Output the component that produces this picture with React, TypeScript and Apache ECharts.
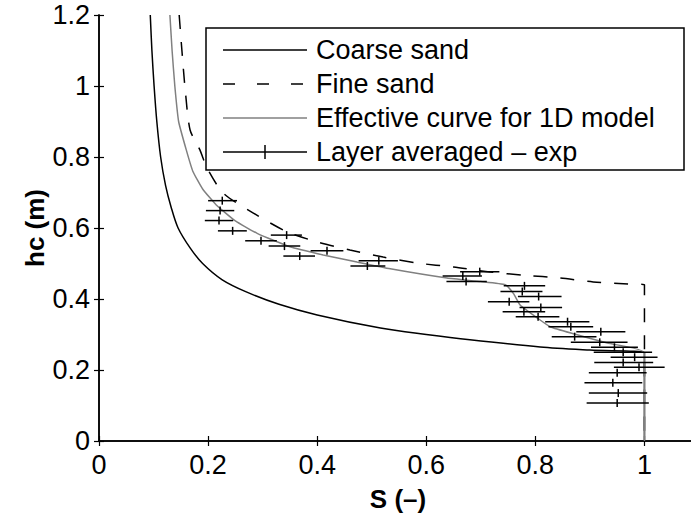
import React, { useEffect, useRef } from "react";
import * as echarts from "echarts";

const coarseS = [0.094, 0.097, 0.101, 0.106, 0.113, 0.122, 0.132, 0.145, 0.167, 0.19, 0.226, 0.27, 0.33, 0.4, 0.516, 0.6, 0.68, 0.809, 0.9, 1.0, 1.0];
const coarseH = [1.2, 1.1, 1.0, 0.9, 0.8, 0.72, 0.66, 0.6, 0.544, 0.5, 0.454, 0.42, 0.385, 0.355, 0.318, 0.3, 0.285, 0.265, 0.256, 0.248, 0];

const fineS = [0.147, 0.152, 0.158, 0.167, 0.185, 0.198, 0.228, 0.283, 0.345, 0.402, 0.46, 0.521, 0.585, 0.65, 0.717, 0.78, 0.846, 0.906, 0.97, 1.0, 1.0];
const fineH = [1.2, 1.1, 0.99, 0.876, 0.82, 0.769, 0.698, 0.642, 0.589, 0.56, 0.538, 0.518, 0.501, 0.49, 0.476, 0.467, 0.459, 0.448, 0.442, 0.44, 0];

const effS = [0.13, 0.134, 0.139, 0.146, 0.16, 0.172, 0.19, 0.215, 0.25, 0.29, 0.35, 0.411, 0.473, 0.534, 0.638, 0.7, 0.745, 0.76, 0.772, 0.804, 0.828, 0.87, 0.932, 1.0, 1.0];
const effH = [1.2, 1.1, 1.0, 0.9, 0.82, 0.76, 0.71, 0.665, 0.62, 0.585, 0.547, 0.524, 0.504, 0.485, 0.459, 0.449, 0.44, 0.415, 0.383, 0.346, 0.321, 0.302, 0.276, 0.248, 0];

// layer averaged experiment: S centre, hc, S low, S high
const expS = [0.226, 0.222, 0.22, 0.245, 0.297, 0.344, 0.34, 0.368, 0.418, 0.492, 0.513, 0.698, 0.667, 0.673, 0.78, 0.776, 0.806, 0.752, 0.81, 0.779, 0.805, 0.859, 0.865, 0.92, 0.872, 0.918, 0.945, 0.961, 0.982, 0.961, 0.99, 0.95, 0.942, 0.952, 0.95];
const expH = [0.677, 0.649, 0.621, 0.592, 0.564, 0.58, 0.549, 0.521, 0.536, 0.493, 0.508, 0.477, 0.465, 0.449, 0.437, 0.421, 0.407, 0.392, 0.376, 0.364, 0.35, 0.336, 0.322, 0.308, 0.294, 0.278, 0.264, 0.25, 0.236, 0.221, 0.208, 0.192, 0.164, 0.135, 0.107];
const expLo = [0.2, 0.196, 0.194, 0.218, 0.268, 0.315, 0.311, 0.338, 0.388, 0.461, 0.476, 0.662, 0.63, 0.637, 0.742, 0.736, 0.768, 0.713, 0.771, 0.74, 0.764, 0.818, 0.824, 0.875, 0.83, 0.865, 0.902, 0.907, 0.938, 0.908, 0.944, 0.898, 0.89, 0.898, 0.894];
const expHi = [0.253, 0.248, 0.246, 0.271, 0.326, 0.372, 0.369, 0.396, 0.448, 0.525, 0.548, 0.734, 0.702, 0.711, 0.818, 0.813, 0.848, 0.789, 0.849, 0.818, 0.844, 0.899, 0.906, 0.965, 0.912, 0.969, 0.988, 1.014, 1.024, 1.016, 1.037, 1.004, 0.996, 1.005, 1.008];

const legendLabels = ["Coarse sand", "Fine sand", "Effective curve for 1D model", "Layer averaged \u2013 exp"];

const FONT = "'Liberation Sans', Arial, Helvetica, sans-serif";

export default function App() {
  const ref = useRef<HTMLDivElement>(null);
  useEffect(() => {
    if (!ref.current) return;
    const chart = echarts.init(ref.current, undefined, { renderer: "svg" });
    const zip = (a: number[], b: number[]) => a.map((v, i) => [v, b[i]]);
    const expData = expS.map((s, i) => [s, expH[i], expLo[i], expHi[i]]);

    const axisCommon = {
      type: "value" as const,
      axisLine: { show: true, lineStyle: { color: "#000", width: 1.5 } },
      axisTick: { show: true, inside: true, length: 5, lineStyle: { color: "#000", width: 1.2 } },
      splitLine: { show: false },
    };

    const legX1 = 223, legX2 = 307, legTextX = 316;
    const rowsY = [50, 84, 118, 152];

    const option: any = {
      animation: false,
      backgroundColor: "#fff",
      grid: { left: 99, top: 15, right: 0, bottom: 76, containLabel: false },
      xAxis: [
        {
          ...axisCommon,
          position: "bottom",
          min: 0,
          max: 1.1,
          interval: 0.2,
          axisLabel: { show: true, color: "#000", fontSize: 27, fontFamily: FONT, margin: 10, showMaxLabel: false },
        },
        {
          ...axisCommon,
          position: "top",
          min: 0,
          max: 1.1,
          interval: 0.2,
          axisLabel: { show: false },
        },
      ],
      yAxis: [
        {
          ...axisCommon,
          position: "left",
          min: 0,
          max: 1.2,
          interval: 0.2,
          axisLabel: { show: true, color: "#000", fontSize: 27, fontFamily: FONT, margin: 9 },
        },
        {
          ...axisCommon,
          position: "right",
          min: 0,
          max: 1.2,
          interval: 0.2,
          axisLabel: { show: false },
        },
      ],
      series: [
        {
          type: "line",
          data: zip(coarseS, coarseH),
          showSymbol: false,
          smooth: 0.3,
          lineStyle: { color: "#000", width: 1.5 },
          z: 2,
        },
        {
          type: "line",
          data: zip(fineS, fineH),
          showSymbol: false,
          smooth: 0.25,
          lineStyle: { color: "#000", width: 1.5, type: [14, 13] },
          z: 2,
        },
        {
          type: "line",
          data: zip(effS, effH),
          showSymbol: false,
          smooth: 0.15,
          lineStyle: { color: "#808080", width: 1.5 },
          z: 3,
        },
        {
          type: "custom",
          data: expData,
          z: 4,
          renderItem: (params: any, api: any) => {
            const s = api.value(0), h = api.value(1), lo = api.value(2), hi = api.value(3);
            const pL = api.coord([lo, h]);
            const pR = api.coord([hi, h]);
            const pC = api.coord([s, h]);
            const st = { stroke: "#000", lineWidth: 1.5 };
            return {
              type: "group",
              children: [
                { type: "line", shape: { x1: pL[0], y1: pL[1], x2: pR[0], y2: pR[1] }, style: st },
                { type: "line", shape: { x1: pC[0], y1: pC[1] - 4, x2: pC[0], y2: pC[1] + 4 }, style: st },
              ],
            };
          },
        },
      ],
      graphic: [
        {
          type: "rect",
          z: 100,
          shape: { x: 206, y: 28, width: 478, height: 142 },
          style: { fill: "#fff", stroke: "#000", lineWidth: 1.5 },
        },
        { type: "line", z: 101, shape: { x1: legX1, y1: rowsY[0], x2: legX2, y2: rowsY[0] }, style: { stroke: "#000", lineWidth: 1.5 } },
        { type: "line", z: 101, shape: { x1: legX1, y1: rowsY[1], x2: legX2, y2: rowsY[1] }, style: { stroke: "#000", lineWidth: 1.5, lineDash: [12, 22] } },
        { type: "line", z: 101, shape: { x1: legX1, y1: rowsY[2], x2: legX2, y2: rowsY[2] }, style: { stroke: "#808080", lineWidth: 1.5 } },
        { type: "line", z: 101, shape: { x1: legX1, y1: rowsY[3], x2: legX2, y2: rowsY[3] }, style: { stroke: "#000", lineWidth: 1.5 } },
        { type: "line", z: 101, shape: { x1: 265, y1: rowsY[3] - 7, x2: 265, y2: rowsY[3] + 7 }, style: { stroke: "#000", lineWidth: 1.5 } },
        ...legendLabels.map((t, i) => ({
          type: "text",
          z: 101,
          x: legTextX,
          y: rowsY[i],
          style: { text: t, fill: "#000", fontSize: 27, fontFamily: FONT, textAlign: "left", textVerticalAlign: "middle" },
        })),
        {
          type: "text",
          z: 101,
          x: 398,
          y: 499,
          style: { text: "S (\u2013)", fill: "#000", fontSize: 26, fontWeight: "bold", fontFamily: FONT, textAlign: "center", textVerticalAlign: "middle" },
        },
        {
          type: "text",
          z: 101,
          x: 35,
          y: 228,
          rotation: Math.PI / 2,
          style: { text: "hc (m)", fill: "#000", fontSize: 26, fontWeight: "bold", fontFamily: FONT, textAlign: "center", textVerticalAlign: "middle" },
        },
      ],
    };
    chart.setOption(option);
    return () => chart.dispose();
  }, []);
  return (
    <div style={{ position: "fixed", left: 0, top: 0, width: 691, height: 517, overflow: "hidden" }}>
      <div ref={ref} style={{ width: 699, height: 517 }} />
    </div>
  );
}
